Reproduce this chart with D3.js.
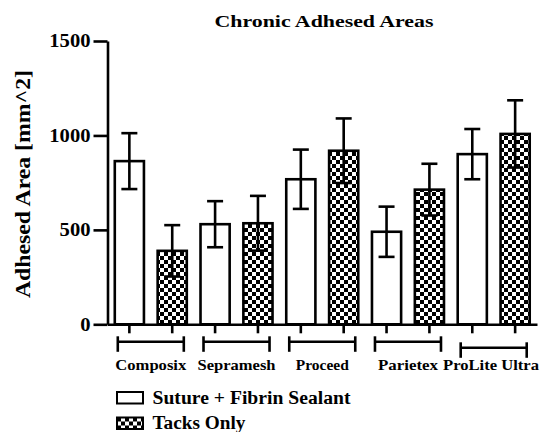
<!DOCTYPE html>
<html>
<head>
<meta charset="utf-8">
<script src="https://cdn.jsdelivr.net/npm/d3@7"></script>
<style>
  body { margin: 0; background: #fff; }
  svg { display: block; }
  text { font-family: "Liberation Serif", "DejaVu Serif", "Times New Roman", serif; font-weight: bold; fill: #000; }
</style>
</head>
<body>
<div id="container"></div>
<script>
/* DATA */
const groups = ["Composix", "Sepramesh", "Proceed", "Parietex", "ProLite Ultra"];
const seriesNames = ["Suture + Fibrin Sealant", "Tacks Only"];
const sutureMean = [864, 530, 768, 490, 901];
const sutureErr = [148, 122, 157, 133, 133];
const tacksMean = [389, 535, 919, 713, 1008];
const tacksErr = [136, 145, 171, 137, 178];
const yTicks = [0, 500, 1000, 1500];

/* CONSTANTS */
const width = 544, height = 432;
const lw = 2.6;

// flat list of bars, two per group
const bars = [];
groups.forEach((g, i) => {
  bars.push({group: g, s: 0, key: g + "|0", mean: sutureMean[i], err: sutureErr[i]});
  bars.push({group: g, s: 1, key: g + "|1", mean: tacksMean[i], err: tacksErr[i]});
});

const svg = d3.select("#container")
  .append("svg")
  .attr("width", width)
  .attr("height", height);

// checker fill for "Tacks Only"
const pat = svg.append("defs").append("pattern")
  .attr("id", "checker")
  .attr("patternUnits", "userSpaceOnUse")
  .attr("width", 8).attr("height", 8);
pat.append("rect").attr("width", 8).attr("height", 8).attr("fill", "#fff");
pat.append("rect").attr("width", 4).attr("height", 4).attr("fill", "#000");
pat.append("rect").attr("x", 4).attr("y", 4).attr("width", 4).attr("height", 4).attr("fill", "#000");

/* SCALES */
const yScale = d3.scaleLinear()
  .domain([0, 1500])
  .range([324.3, 41]);

const xScale = d3.scaleBand()
  .domain(bars.map(d => d.key))
  .range([107.5, 537])
  .paddingInner(0.32)
  .paddingOuter(0.17);

const bw = xScale.bandwidth();
const fills = ["#fff", "url(#checker)"];

/* TITLE */
svg.append("text")
  .attr("x", 324).attr("y", 27.3)
  .attr("text-anchor", "middle")
  .attr("font-size", 17.5)
  .attr("textLength", 219)
  .attr("lengthAdjust", "spacingAndGlyphs")
  .text("Chronic Adhesed Areas");

/* Y LABEL */
svg.append("text")
  .attr("transform", "translate(29.5,184)rotate(-90)")
  .attr("text-anchor", "middle")
  .attr("font-size", 21.5)
  .attr("textLength", 228)
  .attr("lengthAdjust", "spacingAndGlyphs")
  .text("Adhesed Area [mm^2]");

/* BARS */
svg.selectAll("rect.bar")
  .data(bars)
  .join("rect")
  .attr("class", "bar")
  .attr("x", d => xScale(d.key))
  .attr("y", d => yScale(d.mean))
  .attr("width", bw)
  .attr("height", d => yScale(0) - yScale(d.mean))
  .attr("fill", d => fills[d.s])
  .attr("stroke", "#000")
  .attr("stroke-width", lw);

/* ERROR BARS */
const eb = svg.selectAll("g.err")
  .data(bars)
  .join("g")
  .attr("class", "err")
  .attr("transform", d => "translate(" + (xScale(d.key) + bw / 2) + ",0)");
eb.append("line")
  .attr("y1", d => yScale(d.mean + d.err))
  .attr("y2", d => yScale(d.mean - d.err))
  .attr("stroke", "#000").attr("stroke-width", lw);
eb.append("line")
  .attr("x1", -8).attr("x2", 8)
  .attr("y1", d => yScale(d.mean + d.err))
  .attr("y2", d => yScale(d.mean + d.err))
  .attr("stroke", "#000").attr("stroke-width", lw);
eb.append("line")
  .attr("x1", -8).attr("x2", 8)
  .attr("y1", d => yScale(d.mean - d.err))
  .attr("y2", d => yScale(d.mean - d.err))
  .attr("stroke", "#000").attr("stroke-width", lw);

/* AXES */
const yAxis = svg.append("g")
  .attr("transform", "translate(107.5,0)")
  .call(d3.axisLeft(yScale).tickValues(yTicks).tickFormat(d3.format("d"))
    .tickSize(14).tickSizeOuter(0).tickPadding(3));
yAxis.attr("font-family", null);
yAxis.selectAll("path, line").attr("stroke", "#000").attr("stroke-width", lw);
yAxis.selectAll("text")
  .attr("font-size", 18)
  .attr("dy", "0.33em")
  .attr("textLength", d => String(d).length * 10.3)
  .attr("lengthAdjust", "spacingAndGlyphs");

const xAxis = svg.append("g")
  .attr("transform", "translate(0," + yScale(0) + ")")
  .call(d3.axisBottom(xScale).tickSize(9).tickSizeOuter(0).tickFormat(""));
xAxis.selectAll("path, line").attr("stroke", "#000").attr("stroke-width", lw);

/* GROUP BRACKETS + LABELS */
const labelWidths = {"Composix": 71, "Sepramesh": 78, "Proceed": 53, "Parietex": 60, "ProLite Ultra": 96};
const bracketY = yScale(0) + 17.5;
groups.forEach((g, i) => {
  const x1 = xScale(g + "|0") + 3;
  const x2 = xScale(g + "|1") + bw - 3;
  const by = bracketY + (i === groups.length - 1 ? 6 : 0);
  const br = svg.append("g").attr("stroke", "#000").attr("stroke-width", lw);
  br.append("line").attr("x1", x1).attr("x2", x2).attr("y1", by).attr("y2", by);
  br.append("line").attr("x1", x1).attr("x2", x1).attr("y1", by - 5.5).attr("y2", by + 10);
  br.append("line").attr("x1", x2).attr("x2", x2).attr("y1", by - 5.5).attr("y2", by + 10);

  const lwid = labelWidths[g];
  const cx = Math.min((xScale(g + "|0") + xScale(g + "|1") + bw) / 2, width - 5 - lwid / 2);
  svg.append("text")
    .attr("x", cx).attr("y", 369.5)
    .attr("text-anchor", "middle")
    .attr("font-size", 15.5)
    .attr("textLength", lwid)
    .attr("lengthAdjust", "spacingAndGlyphs")
    .text(g);
});

/* LEGEND */
const legendWidths = [198, 93];
const legend = svg.selectAll("g.legend")
  .data(seriesNames)
  .join("g")
  .attr("class", "legend")
  .attr("transform", (d, i) => "translate(117," + (392 + i * 25.5) + ")");
legend.append("rect")
  .attr("width", 26).attr("height", 11.5)
  .attr("fill", (d, i) => fills[i])
  .attr("stroke", "#000").attr("stroke-width", 2);
legend.append("text")
  .attr("x", 35.5).attr("y", 11.5)
  .attr("font-size", 18)
  .attr("textLength", (d, i) => legendWidths[i])
  .attr("lengthAdjust", "spacingAndGlyphs")
  .text(d => d);
</script>
</body>
</html>
